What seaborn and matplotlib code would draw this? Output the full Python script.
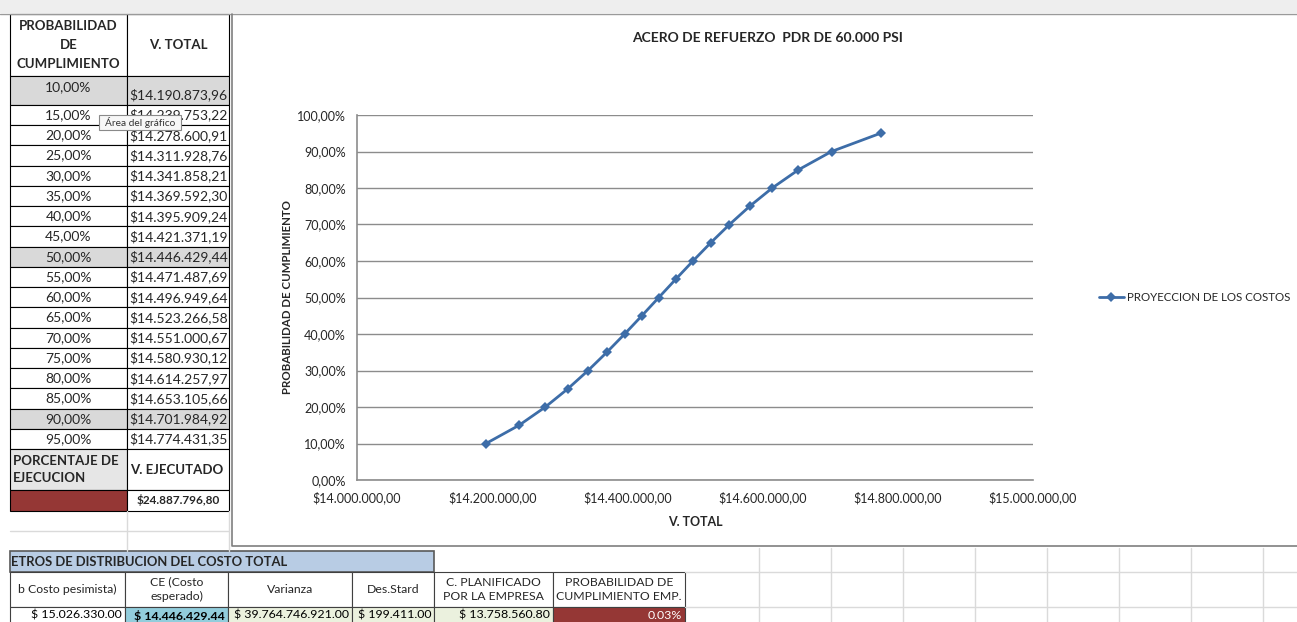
"""
    Recreation of the spreadsheet screenshot: probability table, cost projection chart
    and the distribution parameter row underneath.
"""

import seaborn as sns
import pandas as pd
import matplotlib.pyplot as plt
from matplotlib.patches import Rectangle
from matplotlib.ticker import FuncFormatter, MultipleLocator

W, H = 1297, 622

probabilidad = [0.10, 0.15, 0.20, 0.25, 0.30, 0.35, 0.40, 0.45, 0.50,
                0.55, 0.60, 0.65, 0.70, 0.75, 0.80, 0.85, 0.90, 0.95]
v_total = [14190873.96, 14239753.22, 14278600.91, 14311928.76, 14341858.21,
           14369592.30, 14395909.24, 14421371.19, 14446429.44, 14471487.69,
           14496949.64, 14523266.58, 14551000.67, 14580930.12, 14614257.97,
           14653105.66, 14701984.92, 14774431.35]
v_ejecutado = 24887796.80
resaltadas = [0.10, 0.50, 0.90]

param_headers = ["b Costo pesimista)", "CE (Costo\nesperado)", "Varianza", "Des.Stard",
                 "C. PLANIFICADO\nPOR LA EMPRESA", "PROBABILIDAD DE\nCUMPLIMIENTO EMP."]
param_values = ["$ 15.026.330.00", "$ 14.446.429.44", "$ 39.764.746.921.00",
                "$ 199.411.00", "$ 13.758.560.80", "0.03%"]

titulo = "ACERO DE REFUERZO  PDR DE 60.000 PSI"
serie = "PROYECCION DE LOS COSTOS"


def es_num(v: float, dec: int = 2) -> str:
    """Spanish style number: 14.190.873,96"""
    s = f"{v:,.{dec}f}"
    return s.replace(",", "X").replace(".", ",").replace("X", ".")


sns.set_style("white")
plt.rcParams['font.family'] = ['Lato', 'DejaVu Sans']

fig = plt.figure(figsize=(W / 100, H / 100), dpi=100)
bg = fig.add_axes([0, 0, 1, 1])
bg.set_xlim(0, W)
bg.set_ylim(H, 0)
bg.axis("off")


def cell(x0, y0, x1, y1, fc="white", ec="black", lw=0.8, z=1):
    bg.add_patch(Rectangle((x0, y0), x1 - x0, y1 - y0, facecolor=fc, edgecolor=ec, lw=lw, zorder=z))


# window top bar and light sheet grid
bg.add_patch(Rectangle((0, 0), W, 13, facecolor="#eeeeee", edgecolor="none"))
bg.plot([0, W], [13.5, 13.5], color="#9a9a9a", lw=1)
for gx in [759, 831, 903, 975, 1047, 1119, 1191, 1263]:
    bg.plot([gx, gx], [548, H], color="#dadada", lw=1)
for gy in [572, 607]:
    bg.plot([685, W], [gy, gy], color="#dadada", lw=1)
for gx in [127, 229]:
    bg.plot([gx, gx], [511, 551], color="#dadada", lw=1)
bg.plot([10, 229], [531, 531], color="#dadada", lw=1)

# left table
c0, c1, c2 = 10, 127, 229
cell(c0, 14, c1, 76)
cell(c1, 14, c2, 76)
bg.text((c0 + c1) / 2, 45, "PROBABILIDAD\nDE\nCUMPLIMIENTO", ha="center", va="center",
        fontsize=9.5, fontweight="bold", linespacing=1.65)
bg.text((c1 + c2) / 2, 45, "V. TOTAL", ha="center", va="center", fontsize=9.5, fontweight="bold")

pitch = 20.24
for i, (p, v) in enumerate(zip(probabilidad, v_total)):
    if i == 0:
        y0, y1 = 76, 105
    else:
        y0 = 105 + (i - 1) * pitch
        y1 = y0 + pitch
    fc = "#d9d9d9" if p in resaltadas else "white"
    cell(c0, y0, c1, y1, fc=fc)
    cell(c1, y0, c2, y1, fc=fc)
    ty = 87 if i == 0 else (y0 + y1) / 2
    bg.text((c0 + c1) / 2, ty, es_num(p * 100) + "%", ha="center", va="center", fontsize=10)
    vy = 95 if i == 0 else (y0 + y1) / 2
    bg.text(c1 + 2, vy, "$" + es_num(v), ha="left", va="center", fontsize=10)

cell(c0, 449, c1, 490, fc="#e6e6e6")
cell(c1, 449, c2, 490)
bg.text(c0 + 3, 469.5, "PORCENTAJE DE\nEJECUCION", ha="left", va="center", fontsize=9.5,
        fontweight="bold", linespacing=1.5)
bg.text(c1 + 3, 469.5, "V. EJECUTADO", ha="left", va="center", fontsize=9.5, fontweight="bold")
cell(c0, 490, c1, 511, fc="#953735")
cell(c1, 490, c2, 511)
bg.text((c1 + c2) / 2, 500.5, "$" + es_num(v_ejecutado), ha="center", va="center",
        fontsize=8.5, fontweight="bold")

# tooltip
cell(99, 115, 181, 130, fc="#f7f7f7", ec="#8a8a8a", lw=0.8, z=3)
bg.text(140, 122.5, "Área del gráfico", ha="center", va="center", fontsize=7.3, color="#333333", zorder=4)

# chart frame
bg.plot([232, 232, W], [14, 546, 546], color="#7f7f7f", lw=1.2)
bg.text(768, 38, titulo, ha="center", va="center", fontsize=10, fontweight="bold")

# bottom parameter table
cell(10, 551, 434, 572, fc="#b8cce4", ec="#595959", lw=1.2)
bg.text(11, 562, "ETROS DE DISTRIBUCION DEL COSTO TOTAL", ha="left", va="center",
        fontsize=9.4, fontweight="bold")
cols = [10, 125, 228, 352, 434, 553, 685]
fills = ["white", "#92cddc", "#ebf1de", "#ebf1de", "#ebf1de", "#953735"]
for j in range(6):
    cell(cols[j], 572, cols[j + 1], 607, fc="white", ec="#404040")
    bg.text((cols[j] + cols[j + 1]) / 2, 589.5, param_headers[j], ha="center", va="center",
            fontsize=8.8, linespacing=1.4)
    cell(cols[j], 607, cols[j + 1], 630, fc=fills[j], ec="#404040")
    bg.text(cols[j + 1] - 3, 615.5, param_values[j], ha="right", va="center", fontsize=8.9,
            fontweight="bold" if j == 1 else "normal",
            color="white" if j == 5 else "black")

# chart
ax = fig.add_axes([357 / W, 1 - 480 / H, (1033 - 357) / W, (480 - 115) / H])
df = pd.DataFrame({"v_total": v_total, "prob": probabilidad})
sns.lineplot(data=df, x="v_total", y="prob", ax=ax, color="#3d6da8", lw=2,
             marker="D", markersize=5.5, markeredgewidth=0, label=serie)
ax.set_xlim(14000000, 15000000)
ax.set_ylim(0, 1)
ax.xaxis.set_major_locator(MultipleLocator(200000))
ax.yaxis.set_major_locator(MultipleLocator(0.1))
ax.xaxis.set_major_formatter(FuncFormatter(lambda v, _: "$" + es_num(v)))
ax.yaxis.set_major_formatter(FuncFormatter(lambda v, _: es_num(v * 100) + "%"))
ax.grid(axis="y", color="#8c8c8c", lw=1)
ax.set_axisbelow(True)
for s in ["top", "right"]:
    ax.spines[s].set_visible(False)
for s in ["left", "bottom"]:
    ax.spines[s].set_color("#8c8c8c")
    ax.spines[s].set_linewidth(1.2)
ax.tick_params(axis="both", labelsize=9, length=0)
ax.tick_params(axis="y", pad=8)
ax.tick_params(axis="x", pad=8)
ax.set_xlabel("V. TOTAL", fontsize=9, fontweight="bold", labelpad=9)
ax.set_ylabel("PROBABILIDAD DE CUMPLIMIENTO", fontsize=8.3, fontweight="bold", labelpad=3)
ax.legend(loc="center left", bbox_to_anchor=(1.097, 0.5), frameon=False, fontsize=8.3,
          handlelength=2.2, handletextpad=0.3, borderpad=0, borderaxespad=0)

plt.savefig("out.png", dpi=100)
plt.close()
